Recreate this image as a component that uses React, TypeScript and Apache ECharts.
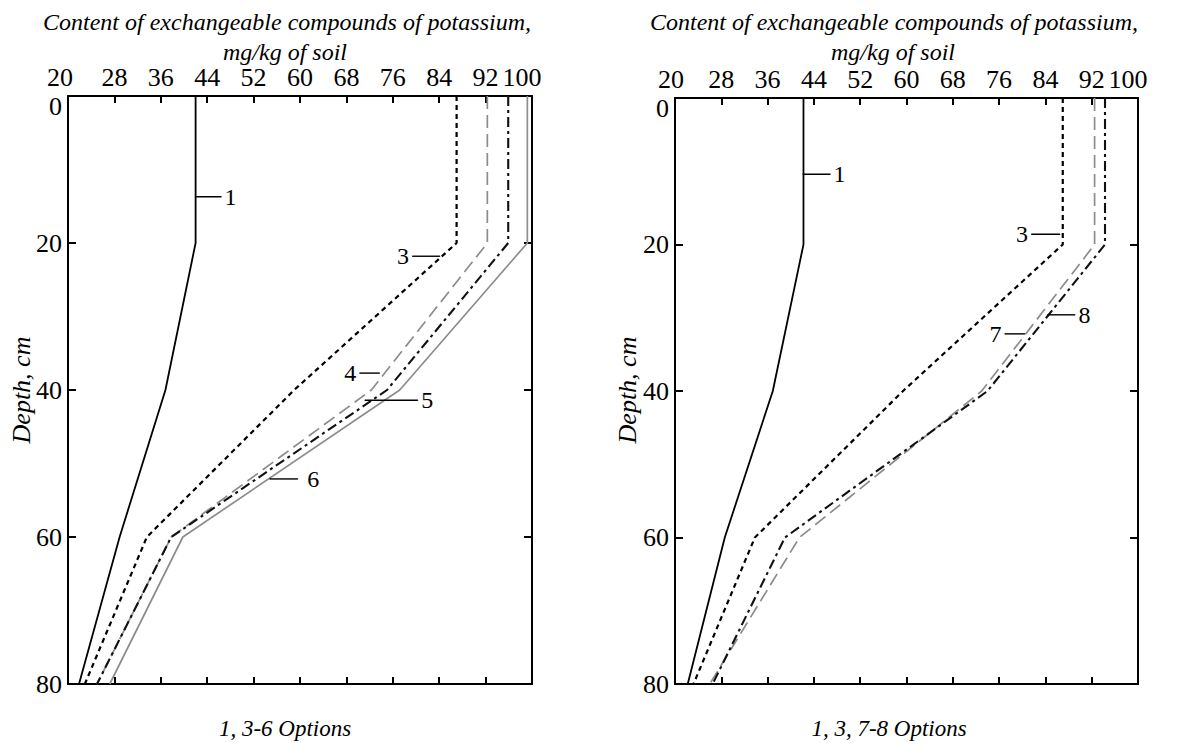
import React, { useEffect, useRef } from "react";
import * as echarts from "echarts";

const FONT = "'Liberation Serif', 'DejaVu Serif', serif";

// Axis ticks
const xTicks = [20, 28, 36, 44, 52, 60, 68, 76, 84, 92, 100];
const depths = [0, 20, 40, 60, 80];

// Left panel: options 1, 3-6 (mg/kg at each depth)
const left1 = [42, 42, 36.8, 28.9, 21.9];
const left3 = [87, 87, 59, 33.6, 22.9];
const left4 = [92.3, 92.3, 72.3, 37.8, 25];
const left5 = [95.9, 95.9, 75, 37.8, 25];
const left6 = [99.2, 99.2, 77.2, 39.8, 27.2];

// Right panel: options 1, 3, 7-8
const right1 = [42.2, 42.2, 36.9, 28.6, 22.2];
const right3 = [87, 87, 59.4, 33.8, 23.2];
const right7 = [92.5, 92.5, 73, 41.5, 26];
const right8 = [94.3, 94.3, 74, 39, 26.5];

// Curve labels with leader lines (data coordinates)
const leadersLeft = [
  { text: "1", from: 42.1, to: 46.4, depth: 13.7, side: "right" },
  { text: "3", from: 79.4, to: 84.1, depth: 21.8, side: "left" },
  { text: "4", from: 70.3, to: 73.7, depth: 37.7, side: "left" },
  { text: "5", from: 71.2, to: 80.3, depth: 41.4, side: "right" },
  { text: "6", from: 54.8, to: 59.6, depth: 52.1, side: "right" },
];
const leadersRight = [
  { text: "1", from: 42.1, to: 46.8, depth: 10.4, side: "right" },
  { text: "3", from: 81.6, to: 86.5, depth: 18.6, side: "left" },
  { text: "8", from: 84.4, to: 89.1, depth: 29.6, side: "right" },
  { text: "7", from: 77, to: 80.4, depth: 32.2, side: "left" },
];

const titleLine1 = "Content of exchangeable compounds of potassium,";
const titleLine2 = "mg/kg of soil";
const yName = "Depth, cm";
const captions = ["1, 3-6 Options", "1, 3, 7-8 Options"];

const pairs = (vals: number[]) => depths.map((d, i) => [vals[i], d]);

const GRAY = "#8c8c8c";
const styles: Record<string, any> = {
  solidBlack: { color: "#000", width: 1.8, type: "solid" },
  shortDash: { color: "#000", width: 2.2, type: [5, 4] },
  longDashGray: { color: GRAY, width: 1.7, type: [13, 6] },
  dashDot: { color: "#111", width: 2.1, type: [10, 4, 3, 4] },
  solidGray: { color: GRAY, width: 1.7, type: "solid" },
};

// end-label nudges (padding on the right shifts a centred label to the left)
const edgeShift = [
  { first: 16, last: 20 },
  { first: 8, last: 20 },
];

function xAxes(gi: number) {
  const common = {
    gridIndex: gi,
    type: "value",
    min: 20,
    max: 100,
    splitLine: { show: false },
    axisLine: { show: true, onZero: false, lineStyle: { color: "#000", width: 2 } },
    axisTick: { show: true, inside: true, length: 7, lineStyle: { color: "#000", width: 2 }, customValues: xTicks },
  };
  const tickFont = { fontSize: 26, fontFamily: FONT, color: "#000" };
  return [
    {
      ...common,
      position: "top",
      axisLabel: {
        show: true,
        showMinLabel: true,
        showMaxLabel: true,
        customValues: xTicks,
        ...tickFont,
        margin: 6,
        formatter: (v: number) =>
          v === xTicks[0] ? `{a|${v}}` : v === xTicks[xTicks.length - 1] ? `{b|${v}}` : String(v),
        rich: {
          a: { ...tickFont, padding: [0, edgeShift[gi].first, 0, 0] },
          b: { ...tickFont, padding: [0, edgeShift[gi].last, 0, 0] },
        },
      },
    },
    { ...common, position: "bottom", axisLabel: { show: false } },
  ];
}

function yAxes(gi: number) {
  const common = {
    gridIndex: gi,
    type: "value",
    inverse: true,
    min: 0,
    max: 80,
    interval: 20,
    splitLine: { show: false },
    axisLine: { show: true, onZero: false, lineStyle: { color: "#000", width: 2 } },
    axisTick: { show: true, inside: true, length: 8, lineStyle: { color: "#000", width: 2 } },
  };
  return [
    {
      ...common,
      position: "left",
      axisLabel: {
        show: true,
        showMinLabel: true,
        showMaxLabel: true,
        color: "#000",
        fontSize: 26,
        fontFamily: FONT,
        margin: 6,
        verticalAlignMinLabel: "top",
        formatter: (v: number) => (v === 0 ? "{z|0}" : String(v)),
        rich: { z: { fontSize: 26, fontFamily: FONT, color: "#000", lineHeight: 20 } },
      },
    },
    { ...common, position: "right", axisLabel: { show: false } },
  ];
}

function curve(vals: number[], style: any, axisIdx: number) {
  return {
    type: "line",
    xAxisIndex: axisIdx,
    yAxisIndex: axisIdx,
    data: pairs(vals),
    symbol: "none",
    silent: true,
    lineStyle: style,
    z: 3,
  };
}

function leader(l: any, axisIdx: number) {
  const labelCfg = {
    show: true,
    formatter: l.text,
    position: l.side,
    distance: l.text === "6" && axisIdx === 0 ? 9 : 3,
    color: "#000",
    fontSize: 24,
    fontFamily: FONT,
  };
  const p1: any = { value: [l.from, l.depth], label: { show: false } };
  const p2: any = { value: [l.to, l.depth], label: { show: false } };
  if (l.side === "left") p1.label = labelCfg;
  else p2.label = labelCfg;
  return {
    type: "line",
    xAxisIndex: axisIdx,
    yAxisIndex: axisIdx,
    data: [p1, p2],
    symbol: "circle",
    symbolSize: 1,
    itemStyle: { color: "#000" },
    lineStyle: { color: "#000", width: 1.4 },
    silent: true,
    z: 5,
  };
}

function textEl(text: string, x: number, y: number, size: number, rotation = 0) {
  return {
    type: "text",
    x,
    y,
    rotation,
    silent: true,
    style: {
      text,
      fill: "#000",
      fontSize: size,
      fontStyle: "italic",
      fontFamily: FONT,
      align: "center",
      verticalAlign: "middle",
    },
  };
}

const option: any = {
  animation: false,
  backgroundColor: "#fff",
  grid: [
    { left: 68, top: 96, width: 464, height: 588 },
    { left: 675, top: 98, width: 463, height: 586 },
  ],
  xAxis: [...xAxes(0), ...xAxes(1)],
  yAxis: [...yAxes(0), ...yAxes(1)],
  series: [
    curve(left1, styles.solidBlack, 0),
    curve(left3, styles.shortDash, 0),
    curve(left4, styles.longDashGray, 0),
    curve(left5, styles.dashDot, 0),
    curve(left6, styles.solidGray, 0),
    curve(right1, styles.solidBlack, 2),
    curve(right3, styles.shortDash, 2),
    curve(right7, styles.longDashGray, 2),
    curve(right8, styles.dashDot, 2),
    ...leadersLeft.map((l) => leader(l, 0)),
    ...leadersRight.map((l) => leader(l, 2)),
  ],
  graphic: [
    textEl(titleLine1, 287, 22, 24),
    textEl(titleLine2, 285, 52, 24),
    textEl(titleLine1, 894, 22, 24),
    textEl(titleLine2, 893, 52, 24),
    textEl(yName, 21, 390, 26, Math.PI / 2),
    textEl(yName, 627, 390, 26, Math.PI / 2),
    textEl(captions[0], 285, 728, 23),
    textEl(captions[1], 889, 728, 23),
  ],
};

export default function App() {
  const ref = useRef<HTMLDivElement>(null);
  useEffect(() => {
    const chart = echarts.init(ref.current!, null, { renderer: "svg" });
    chart.setOption(option);
    return () => chart.dispose();
  }, []);
  return (
    <div
      ref={ref}
      style={{ position: "fixed", left: 0, top: 0, width: 1191, height: 743, background: "#fff" }}
    />
  );
}
